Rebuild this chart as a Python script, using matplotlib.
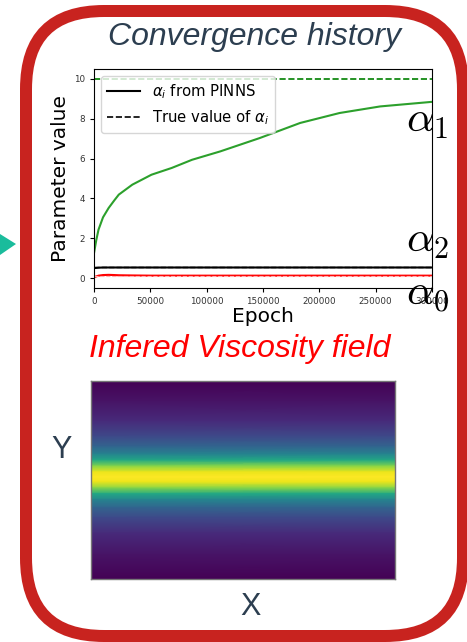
import numpy as np
import matplotlib.pyplot as plt
from matplotlib.patches import FancyBboxPatch, Polygon

# convergence history
epochs = [0, 2000, 4000, 8000, 13000, 18000, 22000, 34000, 51000, 69000,
          87000, 112000, 147000, 183000, 218000, 254000, 300000]
alpha1 = [1.25, 1.9, 2.43, 3.05, 3.52, 3.9, 4.19, 4.69, 5.19, 5.53,
          5.94, 6.36, 7.03, 7.79, 8.29, 8.62, 8.85]
alpha2 = [0.5, 0.51, 0.52, 0.53, 0.53, 0.53, 0.53, 0.53, 0.53, 0.53,
          0.53, 0.53, 0.53, 0.53, 0.53, 0.53, 0.53]
alpha0 = [0.05, 0.08, 0.12, 0.15, 0.16, 0.15, 0.14, 0.13, 0.12, 0.12,
          0.12, 0.12, 0.12, 0.12, 0.12, 0.12, 0.12]
true_alpha = [0.1, 10.0, 0.55]
xticks = [0, 50000, 100000, 150000, 200000, 250000, 300000]
yticks = [0, 2, 4, 6, 8, 10]

# viscosity profile across Y (fraction from top, normalised value)
visc_y = [0.0, 0.10, 0.20, 0.28, 0.33, 0.37, 0.40, 0.43, 0.46, 0.485,
          0.51, 0.54, 0.57, 0.60, 0.64, 0.69, 0.77, 0.88, 1.0]
visc_v = [0.0, 0.05, 0.12, 0.22, 0.32, 0.45, 0.6, 0.82, 0.97, 1.0,
          0.97, 0.82, 0.6, 0.45, 0.32, 0.22, 0.12, 0.05, 0.0]

W, H = 467, 642
fig = plt.figure(figsize=(W / 100, H / 100), dpi=100)

# background layer in pixel units for the frame
bg = fig.add_axes([0, 0, 1, 1])
bg.set_xlim(0, W)
bg.set_ylim(H, 0)
bg.axis('off')
frame = FancyBboxPatch((26, 11), 437, 625, boxstyle="round,pad=0,rounding_size=78",
                       fc='white', ec='#c8231f', lw=12 * 0.72)
bg.add_patch(frame)
bg.add_patch(Polygon([[0, 234], [16, 244], [0, 255]], closed=True, fc='#1abc9c', ec='none'))

txt_col = '#2c3e50'
fig.text(255 / W, 1 - 37 / H, 'Convergence history', ha='center', va='center',
         fontsize=23, style='italic', family='Liberation Sans', color=txt_col)
fig.text(240 / W, 1 - 349 / H, 'Infered Viscosity field', ha='center', va='center',
         fontsize=23, style='italic', family='Liberation Sans', color='#ff0000')
fig.text(62 / W, 1 - 450 / H, 'Y', ha='center', va='center', fontsize=22,
         family='Liberation Sans', color=txt_col)
fig.text(251 / W, 1 - 607 / H, 'X', ha='center', va='center', fontsize=22,
         family='Liberation Sans', color=txt_col)

# convergence plot
ax = fig.add_axes([94 / W, 1 - 288 / H, 338 / W, 219 / H])
ax.plot(epochs, alpha1, color='#2ca02c', lw=1.5)
ax.plot(epochs, alpha2, color='black', lw=1.5)
ax.plot(epochs, alpha0, color='red', lw=1.5)
ax.axhline(true_alpha[1], color='green', ls='--', lw=1.2)
ax.axhline(true_alpha[2], color='black', ls='--', lw=1.0)
ax.axhline(true_alpha[0], color='#ffb0b0', ls='--', lw=0.8)
ax.plot([], [], color='black', lw=1.5, label=r'$\alpha_i$ from PINNS')
ax.plot([], [], color='black', ls='--', lw=1.2, label=r'True value of $\alpha_i$')
ax.set_xlim(0, 300000)
ax.set_ylim(-0.5, 10.5)
ax.set_xticks(xticks)
ax.set_yticks(yticks)
ax.tick_params(labelsize=6.3, labelcolor='#333333', length=3)
ax.set_xlabel('Epoch', fontsize=14.5, labelpad=1)
ax.set_ylabel('Parameter value', fontsize=14.5, labelpad=3)
ax.legend(loc='upper left', fontsize=10.7, handlelength=2.2)

# alpha annotations
for lab, yb in [(r'$\alpha_1$', 132), (r'$\alpha_2$', 252), (r'$\alpha_0$', 305)]:
    fig.text(406 / W, 1 - yb / H, lab, ha='left', va='baseline', fontsize=31,
             math_fontfamily='cm', color='black')

# viscosity field
ax2 = fig.add_axes([91 / W, 1 - 579 / H, 304 / W, 198 / H])
C = np.column_stack([visc_v, visc_v])
ax2.pcolormesh([0, 1], visc_y, C, shading='gouraud', cmap='viridis', vmin=0, vmax=1,
               antialiased=False, rasterized=True)
ax2.set_xlim(0, 1)
ax2.set_ylim(1, 0)
ax2.set_xticks([])
ax2.set_yticks([])
for s in ax2.spines.values():
    s.set_color('#777777')
    s.set_linewidth(1)

fig.savefig('out.png', dpi=100)
